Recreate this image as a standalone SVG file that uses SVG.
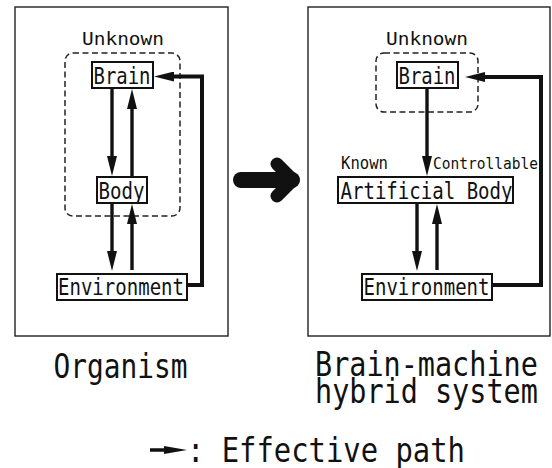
<svg xmlns="http://www.w3.org/2000/svg" width="552" height="468" viewBox="0 0 552 468">
  <style>
    .frame { fill: #fff; stroke: #222; stroke-width: 1.4; }
    .region { fill: none; stroke: #222; stroke-width: 1.5; stroke-dasharray: 6 3.5; }
    .node { fill: #fff; stroke: #111; stroke-width: 2; }
    .label { font-family: "DejaVu Sans Mono", "Liberation Mono", monospace; fill: #111; }
    .box-label { font-size: 23px; }
    .note { font-size: 18.5px; }
    .caption { font-size: 33px; }
    .flow { fill: none; stroke: #111; stroke-width: 3.4; }
    .feedback { fill: none; stroke: #111; stroke-width: 4; stroke-linejoin: miter; }
  </style>
  <defs>
    <marker id="head" markerUnits="userSpaceOnUse" markerWidth="20" markerHeight="10" viewBox="0 0 20 10" refX="10" refY="5" orient="auto">
      <path d="M0,0 L20,5 L0,10 Z" fill="#111"/>
    </marker>
    <marker id="head-legend" markerUnits="userSpaceOnUse" markerWidth="23" markerHeight="8" viewBox="0 0 23 8" refX="11" refY="4" orient="auto">
      <path d="M0,0 L23,4 L0,8 Z" fill="#111"/>
    </marker>
  </defs>

  <rect width="552" height="468" fill="#fff"/>

  <!-- panels -->
  <g id="panel-organism">
    <rect class="frame" x="15" y="7" width="213" height="329"/>
    <rect class="region" x="65" y="53" width="115" height="163" rx="8"/>
    <text class="label note" x="82" y="45" textLength="82" lengthAdjust="spacingAndGlyphs">Unknown</text>
  </g>
  <g id="panel-hybrid">
    <rect class="frame" x="308" y="7" width="242" height="329"/>
    <rect class="region" x="376" y="53" width="102" height="59" rx="8"/>
    <text class="label note" x="386" y="45" textLength="82" lengthAdjust="spacingAndGlyphs">Unknown</text>
    <text class="label" x="341" y="169" font-size="17.4" textLength="47" lengthAdjust="spacingAndGlyphs">Known</text>
    <text class="label" x="433" y="169" font-size="16.5" textLength="105" lengthAdjust="spacingAndGlyphs">Controllable</text>
  </g>

  <!-- nodes: organism -->
  <g id="brain-l">
    <rect class="node" x="92" y="62" width="61" height="26"/>
    <text class="label box-label" x="93.5" y="83.5" textLength="57" lengthAdjust="spacingAndGlyphs">Brain</text>
  </g>
  <g id="body-l">
    <rect class="node" x="97" y="177" width="50" height="26"/>
    <text class="label box-label" x="98.5" y="198.5" textLength="46" lengthAdjust="spacingAndGlyphs">Body</text>
  </g>
  <g id="env-l">
    <rect class="node" x="57" y="274" width="130" height="26"/>
    <text class="label box-label" x="58" y="295" textLength="126" lengthAdjust="spacingAndGlyphs">Environment</text>
  </g>

  <!-- nodes: brain-machine hybrid -->
  <g id="brain-r">
    <rect class="node" x="397" y="62" width="61" height="26"/>
    <text class="label box-label" x="398.5" y="83.5" textLength="57" lengthAdjust="spacingAndGlyphs">Brain</text>
  </g>
  <g id="artificial-body">
    <rect class="node" x="338" y="177" width="175" height="26"/>
    <text class="label box-label" x="340.5" y="199" textLength="172" lengthAdjust="spacingAndGlyphs">Artificial Body</text>
  </g>
  <g id="env-r">
    <rect class="node" x="362" y="274" width="130" height="26"/>
    <text class="label box-label" x="363.5" y="294.5" textLength="126" lengthAdjust="spacingAndGlyphs">Environment</text>
  </g>

  <!-- connectors -->
  <g id="connectors">
    <!-- organism -->
    <path class="flow" d="M112,88 V166" marker-end="url(#head)"/>
    <path class="flow" d="M132,177 V99" marker-end="url(#head)"/>
    <path class="flow" d="M112,203 V261" marker-end="url(#head)"/>
    <path class="flow" d="M132,270 V214" marker-end="url(#head)"/>
    <path class="feedback" d="M187,285 H202 V76.5 H164" marker-end="url(#head)"/>
    <!-- hybrid -->
    <path class="flow" d="M427,88 V166" marker-end="url(#head)"/>
    <path class="flow" d="M417,203 V261" marker-end="url(#head)"/>
    <path class="flow" d="M437,270 V214" marker-end="url(#head)"/>
    <path class="feedback" d="M492,285 H541 V77 H475" marker-end="url(#head)"/>
  </g>

  <!-- transition arrow between panels -->
  <g id="transition">
    <line x1="241" y1="180" x2="292" y2="180" stroke="#111" stroke-width="16" stroke-linecap="round"/>
    <polyline points="277,164 293,180 277,196" fill="none" stroke="#111" stroke-width="13" stroke-linecap="round" stroke-linejoin="round"/>
  </g>

  <!-- captions -->
  <text class="label caption" x="53.5" y="378" textLength="134" lengthAdjust="spacingAndGlyphs">Organism</text>
  <text class="label caption" transform="translate(315,376) scale(0.863,1)"><tspan x="0" y="0">Brain-machine</tspan><tspan x="0" y="27">hybrid system</tspan></text>

  <!-- legend -->
  <g id="legend">
    <line x1="150" y1="450" x2="175" y2="450" stroke="#111" stroke-width="3.5" marker-end="url(#head-legend)"/>
    <text class="label caption" x="187" y="461.5" textLength="278" lengthAdjust="spacingAndGlyphs">: Effective path</text>
  </g>
</svg>
